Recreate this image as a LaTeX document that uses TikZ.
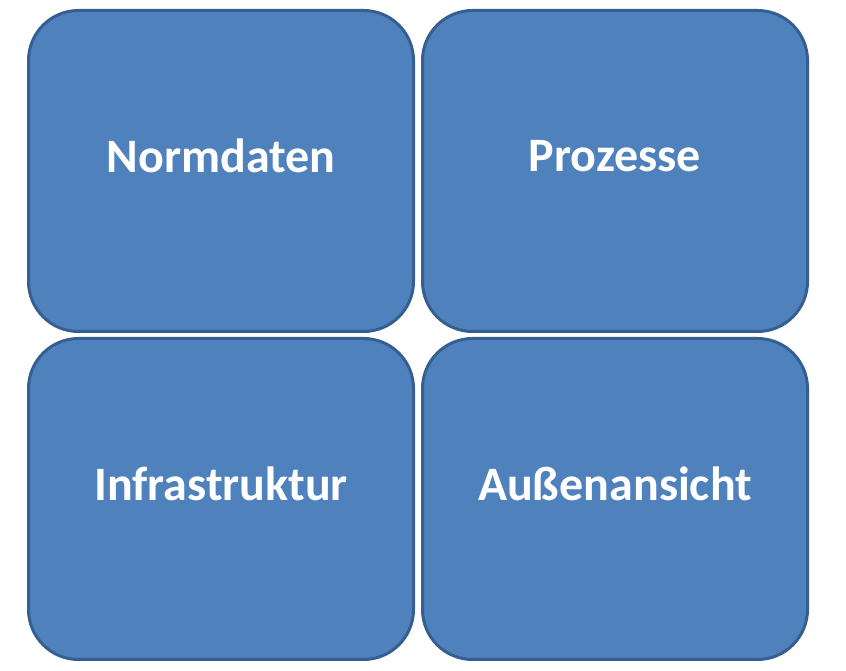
\documentclass[tikz,border=0pt]{standalone}
\usepackage{fontspec}
\setmainfont{Carlito}
\definecolor{boxfill}{HTML}{4F81BD}
\definecolor{boxline}{HTML}{365F91}
\begin{document}
\begin{tikzpicture}[x=1pt,y=1pt,
  tile/.style={draw=boxline, line width=3pt, fill=boxfill, rounded corners=50pt,
    minimum width=385pt, minimum height=321pt, inner sep=0pt, outer sep=0pt},
  tiletext/.style={font=\bfseries\fontsize{48}{52}\selectfont, text=white, yshift=15pt}]
\useasboundingbox (0,0) rectangle (846,671);
\node[tile, label={[tiletext]center:Normdaten}] (nd) at (221,500) {};
\node[tile, label={[tiletext]center:Prozesse}] (pz) at (615,500) {};
\node[tile, label={[tiletext]center:Infrastruktur}] (is) at (221,172) {};
\node[tile, label={[tiletext]center:Außenansicht}] (aa) at (615,172) {};
\end{tikzpicture}
\end{document}
